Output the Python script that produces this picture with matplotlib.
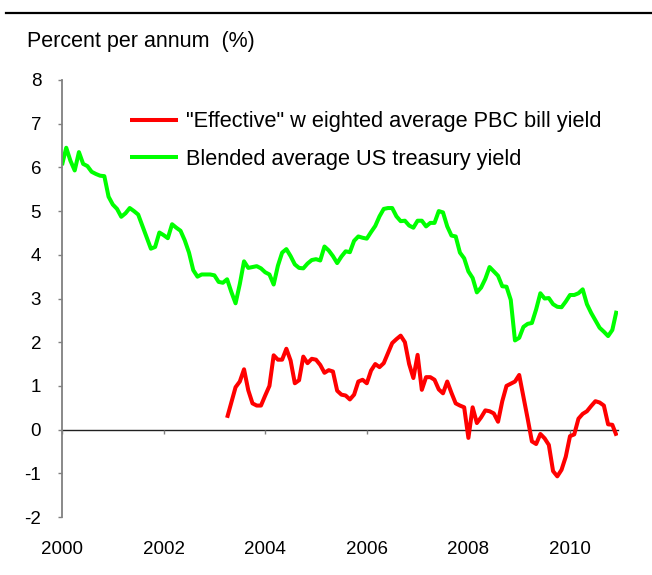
import matplotlib
matplotlib.use("Agg")
import matplotlib.pyplot as plt
from matplotlib.lines import Line2D
import numpy as np

plt.rcParams['font.family'] = ['Liberation Sans', 'DejaVu Sans']

# Monthly data, Jan 2000 .. Dec 2010
us_yield = [
    6.05, 6.45, 6.15, 5.93, 6.35, 6.08, 6.03, 5.90, 5.85, 5.81, 5.80, 5.33,
    5.15, 5.05, 4.87, 4.95, 5.07, 5.00, 4.92, 4.66, 4.40, 4.14, 4.18, 4.51,
    4.45, 4.38, 4.70, 4.62, 4.55, 4.33, 4.05, 3.65, 3.50, 3.55, 3.55, 3.55,
    3.53, 3.38, 3.36, 3.44, 3.15, 2.89, 3.33, 3.85, 3.70, 3.72, 3.74, 3.69,
    3.60, 3.55, 3.32, 3.75, 4.05, 4.13, 3.97, 3.78, 3.70, 3.69, 3.80, 3.88,
    3.90, 3.87, 4.19, 4.10, 3.97, 3.81, 3.96, 4.08, 4.06, 4.32, 4.42, 4.39,
    4.37, 4.52, 4.66, 4.88, 5.05, 5.07, 5.07, 4.88, 4.77, 4.78, 4.67, 4.62,
    4.78, 4.78, 4.65, 4.73, 4.73, 5.00, 4.97, 4.65, 4.44, 4.42, 4.05, 3.92,
    3.62, 3.47, 3.14, 3.25, 3.45, 3.72, 3.62, 3.52, 3.28, 3.27, 2.97, 2.04,
    2.10, 2.35, 2.42, 2.44, 2.75, 3.12, 3.00, 3.01, 2.87, 2.81, 2.80, 2.93,
    3.08, 3.08, 3.12, 3.21, 2.87, 2.67, 2.50, 2.33, 2.24, 2.14, 2.28, 2.72,
]
# Monthly data, Apr 2003 .. Dec 2010
pbc_yield = [
    0.27, 0.62, 0.97, 1.10, 1.38, 0.90, 0.60, 0.55, 0.55, 0.78, 1.00,
    1.70, 1.60, 1.60, 1.85, 1.58, 1.06, 1.13, 1.67, 1.52, 1.62, 1.60, 1.48,
    1.30, 1.36, 1.33, 0.89, 0.80, 0.78, 0.69, 0.80, 1.10, 1.14, 1.06, 1.35,
    1.50, 1.43, 1.52, 1.75, 1.98, 2.07, 2.15, 2.00, 1.50, 1.18, 1.71, 0.91,
    1.20, 1.20, 1.14, 0.92, 0.83, 1.10, 0.84, 0.60, 0.55, 0.51, -0.19, 0.51,
    0.15, 0.28, 0.44, 0.42, 0.37, 0.18, 0.65, 1.00, 1.05, 1.10, 1.25, 0.75,
    0.25, -0.27, -0.33, -0.10, -0.20, -0.35, -0.95, -1.07, -0.92, -0.62, -0.15,
    -0.11, 0.25, 0.36, 0.42, 0.54, 0.65, 0.62, 0.55, 0.12, 0.11, -0.14,
]
us_start_year = 2000
pbc_start_month = 39  # months after Jan 2000

x_ticks = [2000, 2002, 2004, 2006, 2008, 2010]
y_ticks = [-2, -1, 0, 1, 2, 3, 4, 5, 6, 7, 8]
label_pbc = '"Effective" w eighted average PBC bill yield'
label_us = 'Blended average US treasury yield'
y_title = 'Percent per annum  (%)'

us_x = us_start_year + np.arange(len(us_yield)) / 12.0
pbc_x = us_start_year + (pbc_start_month + np.arange(len(pbc_yield))) / 12.0

W, H = 652, 575
fig = plt.figure(figsize=(W / 100, H / 100), dpi=100)
ax = fig.add_axes([62 / W, 1 - 517 / H, (618 - 62) / W, (517 - 80) / H])

ax.plot(pbc_x, pbc_yield, color='#FF0000', lw=2.9, label=label_pbc,
        solid_joinstyle='round', solid_capstyle='butt')
ax.plot(us_x, us_yield, color='#00FF00', lw=2.9, label=label_us,
        solid_joinstyle='round', solid_capstyle='butt')

ax.set_xlim(2000, 2000 + (618 - 62) / 50.8)
ax.set_ylim(-2, 8)

for s in ['top', 'right']:
    ax.spines[s].set_visible(False)
ax.spines['left'].set_color('#808080')
ax.spines['left'].set_linewidth(1.3)
ax.spines['bottom'].set_position(('data', 0))
ax.spines['bottom'].set_color('#202020')
ax.spines['bottom'].set_linewidth(1.0)
ax.spines['bottom'].set_zorder(1)

ax.set_yticks(y_ticks)
ax.set_yticklabels([str(v) for v in y_ticks])
ax.set_xticks(x_ticks)
ax.set_xticklabels([str(v) for v in x_ticks])
ax.tick_params(axis='y', direction='out', length=3, width=1, color='#808080',
               labelsize=13.5, pad=12)
ax.tick_params(axis='x', direction='out', length=3, width=1, color='#808080',
               labelsize=13.5, pad=77.5)

fig.text(27 / W, 1 - 42 / H, y_title, fontsize=15.5, ha='left', va='center')
fig.add_artist(Line2D([6 / W, 1.0], [1 - 13 / H, 1 - 13 / H], color='black',
                      lw=1.6, transform=fig.transFigure))

leg = ax.legend(loc='upper left', bbox_to_anchor=(130 / W, 1 - 111.5 / H),
                bbox_transform=fig.transFigure, frameon=False, fontsize=15.7,
                handlelength=2.2, handletextpad=0.37, borderpad=0,
                borderaxespad=0, labelspacing=0.74)

fig.savefig('out.png', dpi=100)
